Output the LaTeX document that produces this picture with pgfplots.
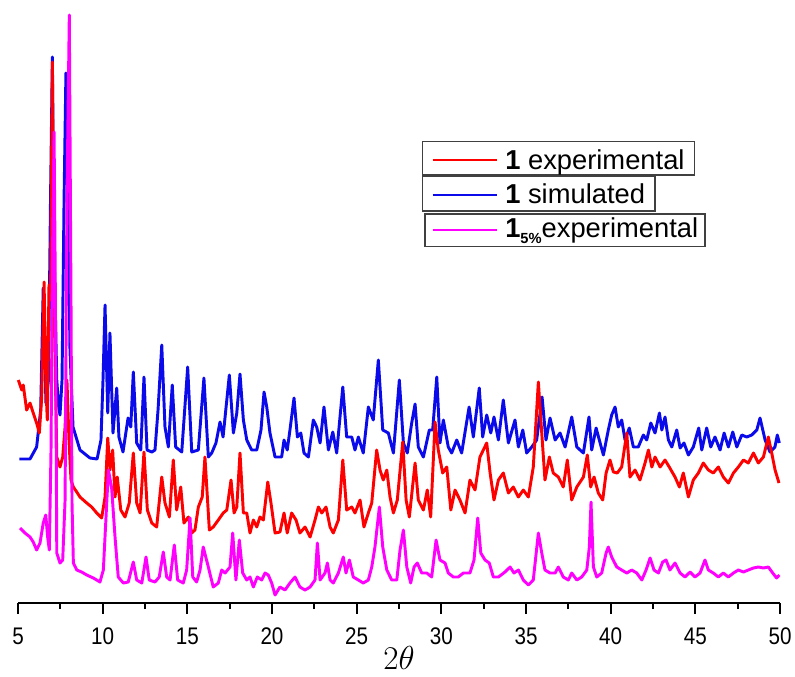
\documentclass[border=0pt]{standalone}
\usepackage{pgfplots}
\pgfplotsset{compat=1.18}
\usepackage{fontspec}
\setmainfont{Liberation Sans}
\usepackage{graphicx}
\definecolor{cred}{RGB}{255,0,0}
\definecolor{cblue}{RGB}{10,10,235}
\definecolor{cmag}{RGB}{255,0,255}
\begin{document}
\begin{tikzpicture}
\begin{axis}[
  width=571.5pt, height=452.25pt, scale only axis,
  xmin=5, xmax=50, ymin=0, ymax=603,
  axis x line*=bottom, hide y axis,
  axis line style={line width=1.5pt, -},
  xtick={5,10,...,50}, minor x tick num=1, xtick pos=bottom,
  tick align=outside, major tick length=8.25pt, minor tick length=4.5pt,
  every tick/.style={black, line width=1.4pt},
  xticklabel={\scalebox{0.86}[1]{\pgfmathprintnumber[assume math mode=true]{\tick}}},
  xticklabel style={font=\fontsize{18}{21}\selectfont, anchor=center, yshift=-16.5pt},
  xlabel={$2\theta$},
  xlabel style={font=\fontsize{24}{28}\selectfont, inner sep=0pt, at={(axis description cs:0.5,0)}, anchor=center, yshift=-41.5pt},
  clip=false,
  every axis plot/.append style={line width=2.2pt, line join=round, no markers},
]
% 1 simulated
\addplot[cblue] coordinates {
(5.08,144)(5.71,144)(6.10,156)(6.34,193)(6.49,315)(6.65,200)(6.80,223)(6.92,403)(7.03,546)(7.13,353)
(7.29,223)(7.39,198)(7.48,188)(7.60,223)(7.72,403)(7.83,530)(7.95,403)(8.07,253)(8.25,176)(8.66,153)
(9.25,145)(9.67,144)(9.90,163)(10.02,223)(10.14,298)(10.30,190)(10.43,270)(10.61,170)(10.83,215)(10.96,166)
(11.20,151)(11.50,185)(11.66,176)(11.81,231)(12.01,160)(12.25,153)(12.44,226)(12.62,153)(12.90,151)(13.09,153)
(13.27,193)(13.49,258)(13.68,176)(13.88,156)(14.11,218)(14.31,156)(14.67,151)(15.02,236)(15.26,151)(15.65,153)
(15.98,225)(16.24,146)(16.44,150)(16.69,160)(16.93,181)(17.11,166)(17.48,228)(17.72,170)(17.92,190)(18.11,229)
(18.31,183)(18.51,163)(18.80,153)(19.10,153)(19.35,173)(19.53,211)(19.69,196)(19.88,170)(20.18,146)(20.57,146)
(20.71,163)(20.90,153)(21.06,173)(21.30,205)(21.50,166)(21.70,170)(21.89,150)(22.15,146)(22.44,183)(22.64,176)
(22.84,160)(23.07,196)(23.33,153)(23.59,171)(23.82,150)(24.18,216)(24.41,166)(24.71,166)(24.90,153)(25.10,166)
(25.39,150)(25.69,196)(25.98,183)(26.28,243)(26.54,173)(26.87,170)(27.17,150)(27.52,223)(27.76,160)(27.99,150)
(28.25,180)(28.45,199)(28.64,156)(28.94,146)(29.29,173)(29.49,173)(29.73,226)(29.92,160)(30.12,183)(30.41,156)
(30.61,150)(30.91,163)(31.20,150)(31.64,196)(31.89,166)(32.24,215)(32.44,166)(32.68,188)(32.92,170)(33.11,186)
(33.37,163)(33.66,203)(33.96,160)(34.35,183)(34.55,156)(34.81,173)(35.04,150)(35.34,156)(35.63,163)(35.95,206)
(36.18,163)(36.42,185)(36.72,163)(37.01,170)(37.31,156)(37.70,186)(38.00,156)(38.39,150)(38.72,186)(38.88,153)
(39.14,175)(39.33,163)(39.57,148)(39.86,173)(40.06,188)(40.26,196)(40.45,176)(40.65,183)(40.85,163)(41.10,175)
(41.34,156)(41.63,156)(41.93,168)(42.13,163)(42.37,180)(42.62,170)(42.88,190)(43.02,173)(43.21,186)(43.41,163)
(43.61,156)(43.90,173)(44.10,155)(44.33,160)(44.59,148)(44.88,156)(45.20,175)(45.38,153)(45.67,175)(45.91,156)
(46.16,166)(46.46,153)(46.70,170)(46.95,156)(47.21,171)(47.45,156)(47.74,168)(48.04,166)(48.33,168)(48.63,173)
(48.82,185)(49.12,163)(49.41,151)(49.70,156)(49.84,168)(49.96,160)
};
% 1 experimental
\addplot[cred] coordinates {
(5.02,223)(5.22,213)(5.31,218)(5.51,193)(5.71,200)(5.90,190)(6.10,180)(6.26,170)(6.40,206)(6.54,321)
(6.65,216)(6.73,183)(6.83,318)(6.92,303)(7.03,541)(7.13,303)(7.29,146)(7.48,136)(7.64,146)(7.78,176)
(7.89,223)(8.01,163)(8.13,123)(8.27,116)(8.47,111)(8.66,106)(8.86,103)(9.06,100)(9.35,96)(9.65,90)
(9.94,85)(10.14,106)(10.30,165)(10.43,133)(10.59,153)(10.73,106)(10.86,126)(11.07,93)(11.32,86)(11.57,100)
(11.81,150)(12.01,100)(12.21,90)(12.44,151)(12.64,93)(12.90,80)(13.19,76)(13.49,126)(13.68,100)(13.94,86)
(14.17,143)(14.37,93)(14.61,116)(14.80,80)(15.06,86)(15.26,70)(15.45,73)(15.65,96)(15.88,106)(16.04,146)
(16.30,73)(16.53,76)(16.83,83)(17.12,90)(17.33,93)(17.58,123)(17.76,90)(17.92,96)(18.11,150)(18.31,90)
(18.51,90)(18.70,70)(18.90,83)(19.10,76)(19.29,86)(19.49,83)(19.75,121)(19.94,100)(20.18,70)(20.47,71)
(20.71,90)(20.90,70)(21.16,90)(21.42,83)(21.65,70)(21.95,76)(22.25,66)(22.54,83)(22.74,96)(22.94,90)
(23.19,96)(23.43,76)(23.62,70)(23.92,83)(24.18,143)(24.41,93)(24.71,96)(24.90,90)(25.20,103)(25.43,76)
(25.69,90)(25.89,100)(26.18,153)(26.38,133)(26.57,123)(26.78,133)(26.97,106)(27.17,90)(27.40,103)(27.72,161)
(27.92,103)(28.11,86)(28.45,140)(28.64,103)(28.94,93)(29.17,113)(29.37,86)(29.63,181)(29.82,153)(30.08,130)
(30.32,136)(30.56,93)(30.81,113)(31.10,103)(31.40,90)(31.69,123)(31.99,113)(32.28,146)(32.68,160)(32.88,130)
(33.11,103)(33.37,123)(33.66,130)(33.96,110)(34.25,116)(34.55,106)(34.84,113)(35.14,106)(35.43,136)(35.73,221)
(35.93,170)(36.12,123)(36.38,146)(36.61,130)(36.91,126)(37.20,116)(37.44,143)(37.70,103)(38.00,116)(38.39,126)
(38.62,148)(38.82,116)(39.02,126)(39.27,110)(39.53,103)(39.73,130)(39.96,143)(40.16,131)(40.39,130)(40.65,136)
(40.95,170)(41.14,126)(41.44,133)(41.73,123)(42.03,140)(42.23,153)(42.43,136)(42.62,146)(42.92,136)(43.21,143)
(43.46,136)(43.80,126)(44.06,116)(44.29,130)(44.59,106)(44.88,123)(45.18,130)(45.47,140)(45.77,133)(46.06,130)
(46.36,136)(46.65,126)(46.95,120)(47.25,130)(47.54,136)(47.84,143)(48.13,140)(48.43,150)(48.72,140)(49.02,146)
(49.31,166)(49.51,150)(49.71,133)(49.94,120)
};
% 1_5% experimental
\addplot[cmag] coordinates {
(5.12,75)(5.41,70)(5.71,66)(5.90,61)(6.10,53)(6.30,60)(6.49,80)(6.64,88)(6.75,66)(6.85,53)
(6.95,153)(7.04,353)(7.13,471)(7.21,303)(7.29,50)(7.48,40)(7.64,43)(7.78,103)(7.89,403)(8.03,588)
(8.13,303)(8.19,100)(8.27,40)(8.47,33)(8.76,31)(9.06,28)(9.45,25)(9.84,21)(10.04,33)(10.24,100)
(10.34,133)(10.53,115)(10.73,66)(10.92,26)(11.22,20)(11.51,21)(11.81,41)(12.01,23)(12.31,20)(12.56,46)
(12.75,23)(13.09,21)(13.34,26)(13.58,51)(13.78,26)(13.98,23)(14.23,58)(14.43,23)(14.76,20)(14.96,33)
(15.16,85)(15.32,26)(15.55,21)(15.75,33)(15.94,56)(16.24,36)(16.53,16)(16.83,20)(17.03,33)(17.23,30)
(17.52,36)(17.68,70)(17.87,23)(18.07,63)(18.27,30)(18.51,23)(18.70,26)(18.90,16)(19.13,26)(19.39,23)
(19.59,30)(19.78,28)(19.98,20)(20.18,8)(20.47,16)(20.77,13)(21.06,20)(21.36,26)(21.65,16)(21.95,13)
(22.25,16)(22.54,23)(22.68,60)(22.84,23)(23.13,30)(23.27,40)(23.43,23)(23.62,20)(23.92,30)(24.21,46)
(24.37,30)(24.57,43)(24.80,26)(25.10,23)(25.39,20)(25.69,23)(25.89,36)(26.08,56)(26.34,96)(26.54,56)
(26.78,33)(27.07,23)(27.37,23)(27.56,53)(27.76,73)(27.96,36)(28.19,20)(28.39,36)(28.58,40)(28.84,30)
(29.14,30)(29.43,26)(29.69,63)(29.92,43)(30.22,40)(30.41,30)(30.71,26)(31.00,26)(31.30,30)(31.69,30)
(31.93,43)(32.15,85)(32.33,50)(32.58,43)(32.83,40)(33.07,26)(33.37,26)(33.76,31)(34.06,36)(34.29,30)
(34.55,33)(34.84,23)(35.14,18)(35.43,23)(35.73,70)(35.93,50)(36.12,33)(36.42,30)(36.72,30)(36.91,36)
(37.20,26)(37.50,23)(37.70,30)(38.00,23)(38.29,26)(38.59,33)(38.74,56)(38.84,101)(38.98,36)(39.18,26)
(39.47,30)(39.73,50)(39.86,56)(40.06,46)(40.36,36)(40.65,33)(40.95,30)(41.24,33)(41.54,30)(41.84,23)
(42.09,33)(42.33,45)(42.56,33)(42.82,30)(43.07,41)(43.27,43)(43.50,33)(43.80,40)(44.10,30)(44.39,26)
(44.69,31)(44.98,26)(45.28,30)(45.57,43)(45.77,33)(46.06,30)(46.36,26)(46.65,30)(46.95,26)(47.25,30)
(47.54,33)(47.84,31)(48.13,33)(48.43,35)(48.72,36)(49.02,35)(49.31,36)(49.57,30)(49.80,25)(49.96,28)
};
\end{axis}
% legend, in pixel units of the reference (origin at top left)
\begin{scope}[x=0.75pt, y=-0.75pt, shift={(-13.5pt,452.25pt)}]
  \draw[line width=1pt, black!75, fill=white] (422.7,141.7) rectangle (694.3,175);
  \draw[line width=1pt, black!75, fill=white] (422.7,176.7) rectangle (655,211);
  \draw[line width=1pt, black!75, fill=white] (425,214) rectangle (705,246.7);
  \draw[cred, line width=2.2pt] (432.7,160) -- (496.7,160);
  \draw[cblue, line width=2.2pt] (432.7,195) -- (496.7,195);
  \draw[cmag, line width=2.2pt] (432.7,230) -- (496.7,230);
  \node[anchor=base west, inner sep=0pt, font=\fontsize{20.5}{24}\selectfont] at (505,169.3) {\textbf{1} experimental};
  \node[anchor=base west, inner sep=0pt, font=\fontsize{20.5}{24}\selectfont] at (505,203.3) {\textbf{1} simulated};
  \node[anchor=base west, inner sep=0pt, font=\fontsize{20.5}{24}\selectfont] at (505,237) {\textbf{1}\raisebox{-5pt}{\fontsize{11}{12}\selectfont\textbf{5\%}}experimental};
  \pgfresetboundingbox
  \useasboundingbox (0,0) rectangle (795,676);
\end{scope}
\end{tikzpicture}
\end{document}
